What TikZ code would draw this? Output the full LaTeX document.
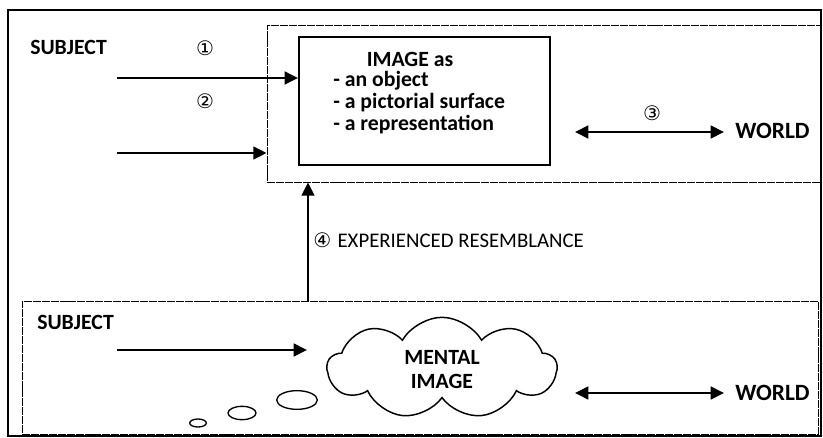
\documentclass[tikz,border=0pt]{standalone}
\usepackage{fontspec}
\setmainfont{Carlito}
\newfontfamily\symfont{DejaVu Sans}
\usetikzlibrary{arrows.meta,shapes.symbols,shapes.geometric}
\begin{document}
\begin{tikzpicture}[x=0.75pt,y=-0.75pt,
  framebox/.style={draw, line width=0.9pt, inner sep=0pt},
  thinbox/.style={draw, line width=0.6pt, dash pattern=on 6pt off 0.7pt, inner sep=0pt},
  imgbox/.style={draw, line width=1.6pt, inner sep=0pt},
  arr/.style={line width=2pt, -{Triangle[length=10pt,width=9.5pt]}},
  darr/.style={line width=2pt, {Triangle[length=10pt,width=9.5pt]}-{Triangle[length=10pt,width=9.5pt]}},
  lbl/.style={font=\bfseries\fontsize{16.3}{18}\selectfont, inner sep=0pt},
  wlbl/.style={font=\bfseries\fontsize{17.5}{19}\selectfont, inner sep=0pt},
  plain/.style={font=\fontsize{15.6}{18}\selectfont, inner sep=0pt},
  num/.style={font=\symfont\fontsize{15}{17}\selectfont, inner sep=0pt},
  bubble/.style={ellipse, draw, line width=1pt, inner sep=0pt},
]
\useasboundingbox (0,0) rectangle (823,438);
% boxes
\node[framebox, minimum width=609.75pt, minimum height=319.5pt] (outer) at (414.5,223) {};
\node[thinbox, minimum width=414.75pt, minimum height=117.75pt] (upbox) at (543.5,103.5) {};
\node[imgbox, minimum width=188.25pt, minimum height=96pt] (imgbox) at (424.5,101) {};
\node[thinbox, minimum width=597pt, minimum height=99.75pt] (lowbox) at (420,367.5) {};

% image box text
\node[lbl] (imgtitle) at (410,59) {IMAGE as};
\node[lbl, anchor=west] (l1) at (333,81) {- an object};
\node[lbl, anchor=west] (l2) at (333,103) {- a pictorial surface};
\node[lbl, anchor=west] (l3) at (333,125) {- a representation};

% upper part
\node[lbl, anchor=west] (subj1) at (30,47) {SUBJECT};
\node[num] (n1) at (205,48) {①};
\node[num] (n2) at (205,101) {②};
\coordinate (s1) at (117,78);
\coordinate (s2) at (117,153);
\draw[arr] (s1) -- (s1 -| imgbox.west);
\draw[arr] (s2) -- (s2 -| upbox.west);
\node[num] (n3) at (652,113) {③};
\node[wlbl, anchor=west] (world1) at (735,131) {WORLD};
\coordinate (w1) at (575,132);
\draw[darr] (w1) -- (724,132);

% vertical arrow
\coordinate (v0) at (308,301);
\draw[arr] (v0) -- (v0 |- upbox.south);
\node[plain, anchor=west] (res) at (313,240) {\symfont\fontsize{15}{17}\selectfont ④\ \fontspec{Carlito}\fontsize{15.6}{18}\selectfont EXPERIENCED RESEMBLANCE};

% lower part
\node[lbl, anchor=west] (subj2) at (37,322) {SUBJECT};
\coordinate (s3) at (117,350);
\node[cloud, draw, line width=1.1pt, cloud puffs=9, cloud puff arc=120, aspect=2.3,
      minimum width=172pt, minimum height=76pt, inner sep=0pt] (cloud) at (442,368) {};
\node[lbl, align=center] (mental) at (442,370) {MENTAL\\IMAGE};
\draw[arr] (s3) -- (307,350);
\node[wlbl, anchor=west] (world2) at (735,393) {WORLD};
\coordinate (w2) at (575,393);
\draw[darr] (w2) -- (724,393);

\node[bubble, minimum width=30.5pt, minimum height=14pt] (b1) at (297,400) {};
\node[bubble, minimum width=21pt, minimum height=10pt] (b2) at (242,413) {};
\node[bubble, minimum width=12.5pt, minimum height=6pt] (b3) at (198,423) {};
\end{tikzpicture}
\end{document}
